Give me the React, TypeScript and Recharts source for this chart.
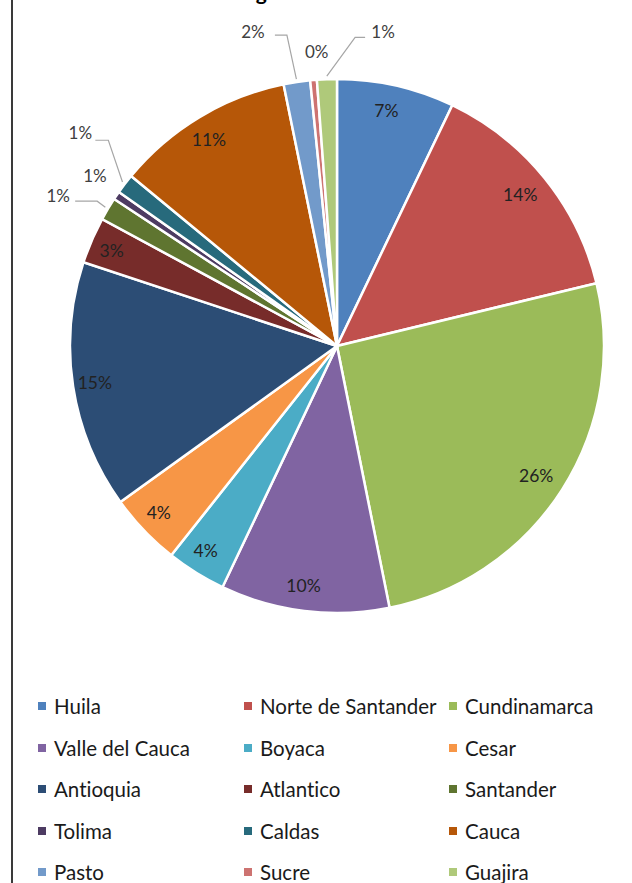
import { Cell, Legend, Pie, PieChart } from 'recharts';

// data (share of total, percent)
const regions = [
  'Huila',
  'Norte de Santander',
  'Cundinamarca',
  'Valle del Cauca',
  'Boyaca',
  'Cesar',
  'Antioquia',
  'Atlantico',
  'Santander',
  'Tolima',
  'Caldas',
  'Cauca',
  'Pasto',
  'Sucre',
  'Guajira',
];
const shares = [7.1, 14.1, 25.6, 10.2, 3.6, 4.4, 15.0, 2.8, 1.4, 0.5, 1.2, 10.8, 1.6, 0.4, 1.2];
const colors = [
  '#4f81bd',
  '#c0504d',
  '#9bbb59',
  '#8064a2',
  '#4bacc6',
  '#f79646',
  '#2c4d75',
  '#772c2a',
  '#5f7530',
  '#4d3b62',
  '#276a7c',
  '#b65708',
  '#729aca',
  '#cd7371',
  '#afc97a',
];
const title = 'Regiones de Colombia';

const chartData = regions.map((name, i) => ({ name, value: shares[i] }));

const W = 632;
const H = 883;
const RAD = Math.PI / 180;
const FONT = 'Lato, "Open Sans", sans-serif';

// small slices get their label outside: radius from centre, angular nudge (deg, clockwise),
// and optional leader [start dx, elbow dx, dy] relative to the label centre
type OutLabel = { r: number; nudge: number; leader?: [number, number, number] };
const outside: Record<number, OutLabel> = {
  8: { r: 317, nudge: -2.5, leader: [17, 39, 6] },
  9: { r: 296, nudge: 0.8 },
  10: { r: 334, nudge: 2.4, leader: [15, 28, 8] },
  12: { r: 326, nudge: -6.3, leader: [22, 34, 4] },
  13: { r: 295, nudge: 1.1 },
  14: { r: 318, nudge: 10.5, leader: [-18, -28, 6] },
};

function polar(cx: number, cy: number, r: number, angle: number) {
  return { x: cx + r * Math.cos(-angle * RAD), y: cy + r * Math.sin(-angle * RAD) };
}

function SliceLabel(props: any) {
  const { cx, cy, midAngle, outerRadius, percent, index } = props;
  const text = `${Math.round(percent * 100)}%`;
  const out = outside[index];

  if (!out) {
    const p = polar(cx, cy, outerRadius - 26, midAngle);
    return (
      <text
        x={p.x - 4}
        y={p.y}
        textAnchor="middle"
        dominantBaseline="central"
        fill="#222"
        fontFamily={FONT}
        fontSize={17.5}
      >
        {text}
      </text>
    );
  }

  const p = polar(cx, cy, out.r, midAngle - out.nudge);
  let line = null;
  if (out.leader) {
    const [sx, ex, dy] = out.leader;
    const edge = polar(cx, cy, outerRadius + 3, midAngle);
    line = (
      <polyline
        points={`${p.x + sx},${p.y + dy} ${p.x + ex},${p.y + dy} ${edge.x},${edge.y}`}
        fill="none"
        stroke="#a6a6a6"
        strokeWidth={1.2}
      />
    );
  }
  return (
    <g>
      {line}
      <text
        x={p.x}
        y={p.y}
        textAnchor="middle"
        dominantBaseline="central"
        fill="#404040"
        fontFamily={FONT}
        fontSize={17}
      >
        {text}
      </text>
    </g>
  );
}

const legendCols = [38, 244, 449];
const legendTop = 706;
const legendStep = 41.5;

function LegendGrid({ payload }: any) {
  // keep the series order, not the sorted order recharts hands over
  const items = regions.map((name) => (payload || []).find((p: any) => p.value === name)).filter(Boolean);
  return (
    <div style={{ position: 'relative', width: W, height: 200 }}>
      {items.map((item: any, i: number) => (
        <div
          key={item.value}
          style={{
            position: 'absolute',
            left: legendCols[i % 3],
            top: Math.floor(i / 3) * legendStep - 12,
            height: 24,
            display: 'flex',
            alignItems: 'center',
            whiteSpace: 'nowrap',
          }}
        >
          <span style={{ width: 8, height: 8, background: item.color, marginRight: 8 }} />
          <span
            style={{ fontFamily: FONT, fontSize: 20.5, color: '#1a1a1a', fontVariantLigatures: 'none' }}
          >
            {item.value}
          </span>
        </div>
      ))}
    </div>
  );
}

export default function App() {
  return (
    <div style={{ position: 'absolute', left: 0, top: 0, width: W, height: H, background: '#fff', overflow: 'hidden' }}>
      <div style={{ position: 'absolute', left: 11, top: 0, width: 2, height: H, background: '#3a3a3a' }} />
      <PieChart width={W} height={H} margin={{ top: 0, right: 0, bottom: 0, left: 0 }}>
        <text x={335} y={0} textAnchor="middle" fontFamily={FONT} fontWeight="bold" fontSize={21} fill="#000">
          {title}
        </text>
        <Pie
          data={chartData}
          dataKey="value"
          nameKey="name"
          cx={337}
          cy={346}
          outerRadius={267}
          startAngle={90}
          endAngle={-270}
          stroke="#fff"
          strokeWidth={2.5}
          label={SliceLabel}
          labelLine={false}
          isAnimationActive={false}
        >
          {chartData.map((entry, i) => (
            <Cell key={entry.name} fill={colors[i]} />
          ))}
        </Pie>
        <Legend
          content={<LegendGrid />}
          wrapperStyle={{ position: 'absolute', left: 0, top: legendTop, width: W }}
        />
      </PieChart>
    </div>
  );
}
